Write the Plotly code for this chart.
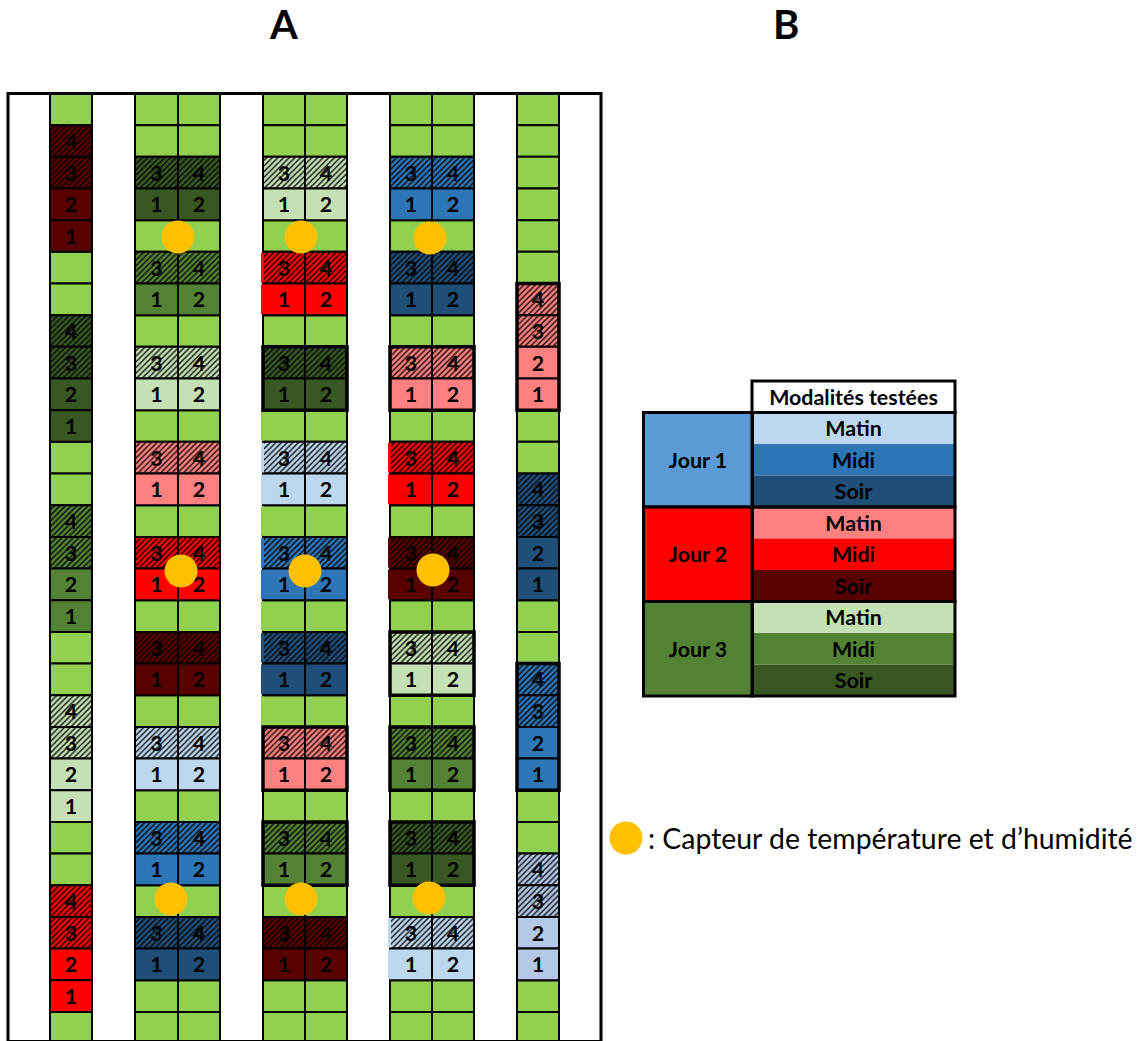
import plotly.graph_objects as go

# ---------- data ----------
PALETTE = {
    "G": "#92D050",
    "J1M": "#BDD7EE", "J1D": "#2E75B6", "J1S": "#1F4E79", "J1P": "#B4C7E7",
    "J2M": "#FF8080", "J2D": "#FF0000", "J2S": "#580000",
    "J3M": "#C5E0B4", "J3D": "#548235", "J3S": "#385723",
    "J1": "#5B9BD5", "J2": "#FF0000", "J3": "#548235",
}
# one modality code per row, top to bottom
strip_1 = ["G", "J2S", "J2S", "J2S", "J2S", "G", "G", "J3S", "J3S", "J3S", "J3S", "G", "G", "J3D", "J3D",
           "J3D", "J3D", "G", "G", "J3M", "J3M", "J3M", "J3M", "G", "G", "J2D", "J2D", "J2D", "J2D", "G"]
strip_1_rep = ["", "4", "3", "2", "1", "", "", "4", "3", "2", "1", "", "", "4", "3",
               "2", "1", "", "", "4", "3", "2", "1", "", "", "4", "3", "2", "1", ""]
strip_5 = ["G", "G", "G", "G", "G", "G", "J2M", "J2M", "J2M", "J2M", "G", "G", "J1S", "J1S", "J1S",
           "J1S", "G", "G", "J1D", "J1D", "J1D", "J1D", "G", "G", "J1P", "J1P", "J1P", "J1P", "G", "G"]
strip_5_rep = ["", "", "", "", "", "", "4", "3", "2", "1", "", "", "4", "3", "2",
               "1", "", "", "4", "3", "2", "1", "", "", "4", "3", "2", "1", "", ""]
double_2 = ["G", "G", "J3S", "J3S", "G", "J3D", "J3D", "G", "J3M", "J3M", "G", "J2M", "J2M", "G", "J2D",
            "J2D", "G", "J2S", "J2S", "G", "J1M", "J1M", "G", "J1D", "J1D", "G", "J1S", "J1S", "G", "G"]
double_3 = ["G", "G", "J3M", "J3M", "G", "J2D", "J2D", "G", "J3S", "J3S", "G", "J1M", "J1M", "G", "J1D",
            "J1D", "G", "J1S", "J1S", "G", "J2M", "J2M", "G", "J3D", "J3D", "G", "J2S", "J2S", "G", "G"]
double_4 = ["G", "G", "J1D", "J1D", "G", "J1S", "J1S", "G", "J2M", "J2M", "G", "J2D", "J2D", "G", "J2S",
            "J2S", "G", "J3M", "J3M", "G", "J3D", "J3D", "G", "J3S", "J3S", "G", "J1M", "J1M", "G", "G"]
double_left_rep = ["", "", "3", "1", "", "3", "1", "", "3", "1", "", "3", "1", "", "3",
                   "1", "", "3", "1", "", "3", "1", "", "3", "1", "", "3", "1", "", ""]
double_right_rep = ["", "", "4", "2", "", "4", "2", "", "4", "2", "", "4", "2", "", "4",
                    "2", "", "4", "2", "", "4", "2", "", "4", "2", "", "4", "2", "", ""]

sensor_x = [178, 301, 430, 181, 305, 433, 171, 301, 429]
sensor_y = [237, 237, 238, 571, 571, 570, 899, 899, 898]

table_days = ["Jour 1", "Jour 2", "Jour 3"]
table_day_codes = ["J1", "J2", "J3"]
table_times = ["Matin", "Midi", "Soir"] * 3
table_time_codes = ["J1M", "J1D", "J1S", "J2M", "J2D", "J2S", "J3M", "J3D", "J3S"]

# plots drawn with a heavier outline: (column edges, first row, row count)
heavy_blocks = [
    (263, 347, 8, 2), (390, 474, 8, 2), (517, 559, 6, 4),
    (263, 347, 20, 2), (390, 474, 17, 2), (390, 474, 20, 2),
    (263, 347, 23, 2), (390, 474, 23, 2), (517, 559, 18, 4),
]
# rows whose left outline is absent in the reference
open_left_3 = [5, 6, 10, 11, 12, 13, 14, 15, 16, 17, 18, 19]
open_left_4 = [11, 12, 14, 15, 26, 27]

# ---------- geometry ----------
ROW_TOP, ROW_H = 93.5, 31.67
TAB_TOP, TAB_H = 412.5, 31.5
FONT = "Lato, 'Open Sans', sans-serif"
SIZE = 21.4

cells = {}  # modality code -> list of (x, width, base, label)


def add_cells(x0, x1, codes, reps):
    for r, (c, t) in enumerate(zip(codes, reps)):
        cells.setdefault(c, []).append(((x0 + x1) / 2, x1 - x0, ROW_TOP + r * ROW_H, t))


add_cells(50, 92, strip_1, strip_1_rep)
for codes, x0, xm, x1 in ((double_2, 135, 178, 220), (double_3, 263, 305, 347), (double_4, 390, 432, 474)):
    add_cells(x0, xm, codes, double_left_rep)
    add_cells(xm, x1, codes, double_right_rep)
add_cells(517, 559, strip_5, strip_5_rep)

fig = go.Figure()
# one trace per modality: a single marker colour lets the hatch keep its own black foreground
for code, items in cells.items():
    fig.add_trace(go.Bar(
        x=[i[0] for i in items], y=[ROW_H] * len(items), base=[i[2] for i in items],
        width=[i[1] for i in items], text=[i[3] for i in items],
        textposition="inside", insidetextanchor="middle", textangle=0, constraintext="none",
        textfont=dict(family=FONT, size=SIZE, color="black", weight="bold"),
        marker=dict(color=PALETTE[code], line=dict(color="black", width=2),
                    pattern=dict(shape=["/" if i[3] in ("3", "4") else "" for i in items],
                                 fillmode="replace", fgcolor="black", fgopacity=1,
                                 bgcolor=PALETTE[code], size=4, solidity=0.32)),
        hoverinfo="skip", showlegend=False,
    ))
# fill running over the missing left outline
patch_x, patch_base, patch_col, patch_w = [], [], [], []
for rows, codes, x0 in ((open_left_3, double_3, 261), (open_left_4, double_4, 388)):
    for r in rows:
        patch_x.append(x0 + 1.5)
        patch_w.append(3)
        patch_base.append(ROW_TOP + r * ROW_H + 1)
        patch_col.append(PALETTE[codes[r]])
fig.add_trace(go.Bar(
    x=patch_x, y=[ROW_H - 2] * len(patch_x), base=patch_base, width=patch_w,
    marker=dict(color=patch_col, line=dict(width=0)), hoverinfo="skip", showlegend=False,
))
# heavier outlines
fig.add_trace(go.Bar(
    x=[(b[0] + b[1]) / 2 for b in heavy_blocks], y=[b[3] * ROW_H for b in heavy_blocks],
    base=[ROW_TOP + b[2] * ROW_H for b in heavy_blocks], width=[b[1] - b[0] for b in heavy_blocks],
    marker=dict(color="rgba(0,0,0,0)", line=dict(color="black", width=3.5)),
    hoverinfo="skip", showlegend=False,
))
# table: time cells
fig.add_trace(go.Bar(
    x=[853.5] * 9, y=[TAB_H] * 9, base=[TAB_TOP + i * TAB_H for i in range(9)], width=[203] * 9,
    text=table_times, textposition="inside", insidetextanchor="middle", textangle=0, constraintext="none",
    textfont=dict(family=FONT, size=SIZE, color="black", weight="bold"),
    marker=dict(color=[PALETTE[c] for c in table_time_codes], line=dict(width=0)),
    hoverinfo="skip", showlegend=False,
))
# table: day cells
fig.add_trace(go.Bar(
    x=[698] * 3, y=[3 * TAB_H] * 3, base=[TAB_TOP + 3 * i * TAB_H for i in range(3)], width=[109] * 3,
    text=table_days, textposition="inside", insidetextanchor="middle", textangle=0, constraintext="none",
    textfont=dict(family=FONT, size=SIZE, color="black", weight="bold"),
    marker=dict(color=[PALETTE[c] for c in table_day_codes], line=dict(color="black", width=3)),
    hoverinfo="skip", showlegend=False,
))
# table: frames round the time groups
fig.add_trace(go.Bar(
    x=[853.5] * 3, y=[3 * TAB_H] * 3, base=[TAB_TOP + 3 * i * TAB_H for i in range(3)], width=[203] * 3,
    marker=dict(color="rgba(0,0,0,0)", line=dict(color="black", width=3)),
    hoverinfo="skip", showlegend=False,
))
# table: header
fig.add_trace(go.Bar(
    x=[853.5], y=[31.5], base=[381], width=[203], text=["Modalités testées"],
    textposition="inside", insidetextanchor="middle", textangle=0, constraintext="none",
    textfont=dict(family=FONT, size=SIZE, color="black", weight="bold"),
    marker=dict(color="white", line=dict(color="black", width=3)),
    hoverinfo="skip", showlegend=False,
))
# sensors and key
fig.add_trace(go.Scatter(
    x=sensor_x + [626], y=sensor_y + [838], mode="markers",
    marker=dict(color="#FFC000", size=33, line=dict(width=0)), hoverinfo="skip", showlegend=False,
))

fig.update_layout(
    template="none",
    width=1140, height=1041, margin=dict(l=0, r=0, t=0, b=0), autosize=False,
    barmode="overlay", paper_bgcolor="white", plot_bgcolor="white",
    xaxis=dict(range=[0, 1140], visible=False, fixedrange=True),
    yaxis=dict(range=[1041, 0], visible=False, fixedrange=True),
    shapes=[dict(type="rect", xref="x", yref="y", x0=8, x1=601, y0=93.5, y1=1041.5,
                 line=dict(color="black", width=3), fillcolor="rgba(0,0,0,0)", layer="above")],
    annotations=[
        dict(x=283, y=24, text="<b>A</b>", showarrow=False, font=dict(family=FONT, size=40, color="black")),
        dict(x=786, y=24, text="<b>B</b>", showarrow=False, font=dict(family=FONT, size=40, color="black")),
        dict(x=646, y=838, xanchor="left", text=": Capteur de température et d’humidité", showarrow=False,
             font=dict(family=FONT, size=28.4, color="black")),
    ],
)
fig.write_html("out.html", config={"displayModeBar": False},
               post_script="document.body.style.margin='0';document.body.style.overflow='hidden';")
